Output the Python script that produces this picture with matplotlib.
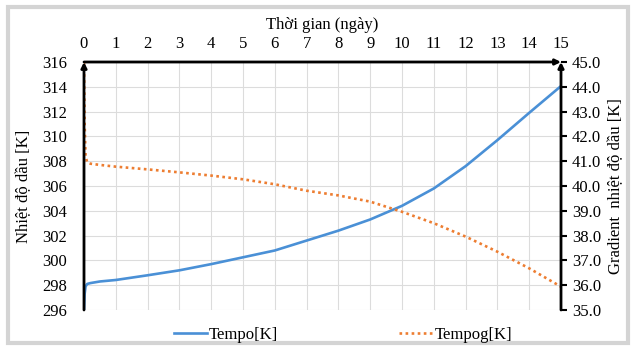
import matplotlib
matplotlib.use("Agg")
import matplotlib.pyplot as plt
import matplotlib.patches as patches
import numpy as np

plt.rcParams['font.family'] = ['Liberation Serif', 'DejaVu Serif']

# dữ liệu
days = [0, 0.02, 0.05, 0.1, 0.2, 0.5, 1, 2, 3, 4, 5, 6, 7, 8, 9, 10, 11, 12, 13, 14, 15]
tempo = [296.0, 297.3, 297.9, 298.1, 298.17, 298.3, 298.42, 298.8, 299.2, 299.7, 300.25,
         300.8, 301.6, 302.4, 303.3, 304.4, 305.8, 307.6, 309.7, 311.9, 314.06]
tempog = [45.0, 42.5, 41.2, 40.95, 40.9, 40.85, 40.78, 40.67, 40.55, 40.42, 40.27,
          40.07, 39.81, 39.62, 39.37, 38.96, 38.5, 37.96, 37.35, 36.68, 35.94]

x_ticks = list(range(0, 16))
left_ticks = list(range(296, 317, 2))
right_ticks = [35.0 + i for i in range(11)]

blue = '#4a90d6'
orange = '#ed7d31'
fs = 12

fig = plt.figure(figsize=(6.36, 3.47), dpi=100)
ax = fig.add_axes([84/636, 1-310/347, (561-84)/636, (310-62)/347])
ax2 = ax.twinx()

l1, = ax.plot(days, tempo, color=blue, lw=1.9, label='Tempo[K]')
l2, = ax2.plot(days, tempog, color=orange, lw=1.9, ls=(0, (1, 1.3)), label='Tempog[K]')

ax.set_xlim(0, 15)
ax.set_ylim(296, 316)
ax2.set_ylim(35, 45)
ax.set_xticks(x_ticks)
ax.set_yticks(left_ticks)
ax2.set_yticks(right_ticks)
ax2.set_yticklabels([f'{v:.1f}' for v in right_ticks])

ax.xaxis.tick_top()
ax.xaxis.set_label_position('top')
ax.tick_params(axis='x', length=0, pad=7, labelsize=fs)
ax.tick_params(axis='y', length=0, pad=12, labelsize=fs)
ax2.tick_params(axis='y', length=4, width=1.5, pad=4, labelsize=fs, color='black')

ax.grid(True, color='#dcdcdc', lw=0.8)
ax.set_axisbelow(True)

for s in ['top', 'bottom', 'left', 'right']:
    ax.spines[s].set_visible(False)
    ax2.spines[s].set_visible(False)

ax.set_xlabel('Thời gian (ngày)', fontsize=fs, labelpad=5)
ax.set_ylabel('Nhiệt độ dầu [K]', fontsize=fs, labelpad=7)
ax2.set_ylabel('Gradient  nhiệt độ dầu [K]', fontsize=fs, labelpad=5)

arrow = dict(arrowstyle='-|>', color='black', lw=2, mutation_scale=8, shrinkA=0, shrinkB=0)
ax2.annotate('', xy=(0, 1), xytext=(0, 0), xycoords='axes fraction', arrowprops=arrow)
ax2.annotate('', xy=(1, 1), xytext=(0, 1), xycoords='axes fraction', arrowprops=arrow)
ax2.annotate('', xy=(1, 1), xytext=(1, 0), xycoords='axes fraction', arrowprops=arrow)

fig.legend(handles=[l1, l2], loc='center', bbox_to_anchor=(0.539, 0.035), ncol=2,
           frameon=False, fontsize=fs, handlelength=2.0, handletextpad=0.1,
           columnspacing=7.3)

fig.patches.append(patches.Rectangle((8/636, 4/347), 620/636, 336/347, transform=fig.transFigure,
                                     fill=False, edgecolor='#d4d4d4', lw=3))

fig.savefig('out.png', dpi=100)
